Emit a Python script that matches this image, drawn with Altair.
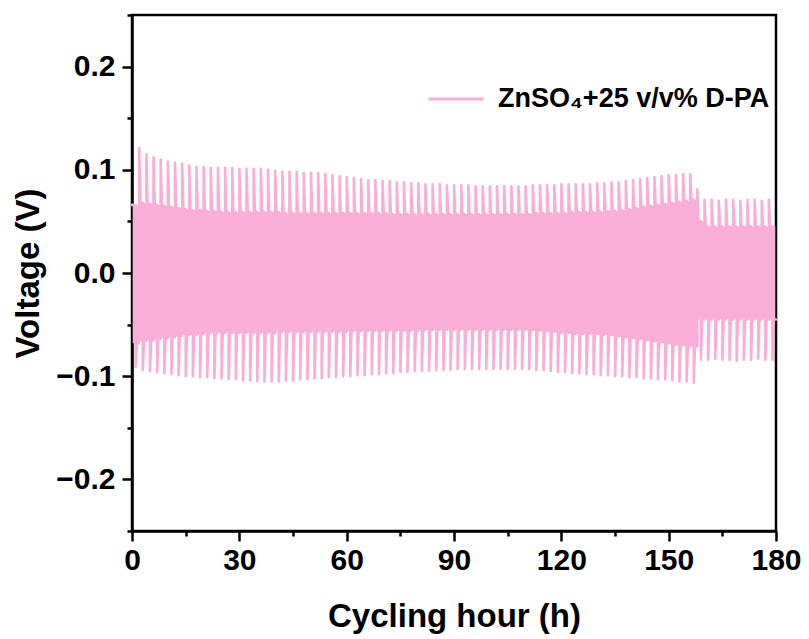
import altair as alt
import pandas as pd

PINK = "#F9AED8"
SERIES = "ZnSO\u2084+25 v/v% D-PA"

# Upper overpotential spikes at t = 2, 4, ..., 178 h
upper_peak = [
    0.121, 0.115, 0.112, 0.110, 0.108, 0.107, 0.106, 0.104, 0.103, 0.103,
    0.102, 0.102, 0.102, 0.102, 0.101, 0.101, 0.101, 0.101, 0.100, 0.099,
    0.098, 0.098, 0.098, 0.097, 0.097, 0.097, 0.096, 0.095, 0.094, 0.093,
    0.092, 0.091, 0.090, 0.090, 0.089, 0.089, 0.088, 0.088, 0.087, 0.087,
    0.086, 0.086, 0.086, 0.085, 0.085, 0.085, 0.085, 0.084, 0.084, 0.084,
    0.084, 0.084, 0.084, 0.084, 0.084, 0.085, 0.085, 0.085, 0.085, 0.086,
    0.086, 0.086, 0.086, 0.086, 0.087, 0.087, 0.088, 0.088, 0.089, 0.090,
    0.091, 0.092, 0.093, 0.094, 0.095, 0.095, 0.096, 0.096, 0.081, 0.071,
    0.071, 0.070, 0.071, 0.071, 0.070, 0.071, 0.071, 0.070, 0.071,
]
# Upper plateau of each positive half-cycle starting at t = 0, 2, ..., 178 h
upper_plateau = [
    0.066, 0.068, 0.067, 0.066, 0.065, 0.064, 0.063, 0.062, 0.061, 0.061,
    0.060, 0.060, 0.059, 0.059, 0.059, 0.059, 0.059, 0.059, 0.059, 0.059,
    0.059, 0.058, 0.058, 0.058, 0.058, 0.058, 0.058, 0.058, 0.058, 0.058,
    0.058, 0.058, 0.058, 0.058, 0.058, 0.058, 0.057, 0.057, 0.057, 0.057,
    0.057, 0.057, 0.057, 0.057, 0.057, 0.057, 0.057, 0.057, 0.057, 0.057,
    0.057, 0.057, 0.057, 0.057, 0.057, 0.057, 0.058, 0.058, 0.058, 0.058,
    0.058, 0.059, 0.059, 0.059, 0.059, 0.059, 0.060, 0.060, 0.061, 0.062,
    0.063, 0.064, 0.065, 0.066, 0.067, 0.068, 0.069, 0.070, 0.071, 0.050,
    0.045, 0.045, 0.045, 0.045, 0.045, 0.045, 0.045, 0.045, 0.045, 0.045,
]
# Lower overpotential spikes at t = 1, 3, ..., 179 h
lower_peak = [
    -0.091, -0.094, -0.095, -0.096, -0.097, -0.098, -0.099, -0.100, -0.100, -0.101,
    -0.101, -0.102, -0.102, -0.103, -0.103, -0.104, -0.104, -0.105, -0.105, -0.105,
    -0.105, -0.104, -0.104, -0.103, -0.103, -0.102, -0.102, -0.101, -0.101, -0.100,
    -0.100, -0.099, -0.099, -0.098, -0.098, -0.097, -0.097, -0.096, -0.096, -0.095,
    -0.095, -0.095, -0.094, -0.094, -0.094, -0.093, -0.093, -0.093, -0.093, -0.093,
    -0.093, -0.093, -0.093, -0.093, -0.093, -0.093, -0.094, -0.094, -0.095, -0.096,
    -0.096, -0.097, -0.097, -0.098, -0.098, -0.099, -0.099, -0.100, -0.100, -0.101,
    -0.101, -0.102, -0.102, -0.103, -0.103, -0.104, -0.105, -0.105, -0.106, -0.084,
    -0.084, -0.083, -0.084, -0.084, -0.085, -0.084, -0.084, -0.083, -0.084, -0.084,
]
# Lower plateau of each negative half-cycle starting at t = 1, 3, ..., 179 h
lower_plateau = [
    -0.068, -0.066, -0.065, -0.064, -0.063, -0.062, -0.061, -0.060, -0.060, -0.059,
    -0.058, -0.058, -0.058, -0.058, -0.058, -0.058, -0.058, -0.058, -0.058, -0.058,
    -0.057, -0.057, -0.057, -0.057, -0.057, -0.057, -0.057, -0.057, -0.057, -0.057,
    -0.056, -0.056, -0.056, -0.056, -0.056, -0.056, -0.056, -0.056, -0.056, -0.056,
    -0.055, -0.055, -0.055, -0.055, -0.055, -0.055, -0.055, -0.055, -0.055, -0.055,
    -0.055, -0.055, -0.055, -0.055, -0.055, -0.055, -0.056, -0.056, -0.057, -0.058,
    -0.058, -0.059, -0.059, -0.059, -0.059, -0.060, -0.060, -0.061, -0.062, -0.063,
    -0.064, -0.065, -0.066, -0.067, -0.068, -0.069, -0.070, -0.071, -0.071, -0.045,
    -0.045, -0.045, -0.045, -0.045, -0.045, -0.045, -0.045, -0.045, -0.045, -0.045,
]

x_major = [0, 30, 60, 90, 120, 150, 180]
x_minor = [15, 45, 75, 105, 135, 165]
y_major = [-0.2, -0.1, 0.0, 0.1, 0.2]
y_minor = [-0.25, -0.15, -0.05, 0.05, 0.15, 0.25]

# Build the galvanostatic voltage trace (1 h per half-cycle)
rows = [(0.0, upper_plateau[0])]
band = []
for k in range(len(upper_plateau)):
    ts = 2.0 * k
    if k > 0:
        rows.append((ts + 0.02, upper_peak[k - 1]))
        rows.append((ts + 0.35, upper_plateau[k]))
    rows.append((ts + 1.0, upper_plateau[k]))
    rows.append((ts + 1.02, lower_peak[k]))
    rows.append((ts + 1.35, lower_plateau[k]))
    rows.append((ts + 2.0, lower_plateau[k]))
    band.append((ts + 0.2, lower_plateau[k], upper_plateau[k]))
    band.append((ts + 1.8, lower_plateau[k], upper_plateau[k]))

df_line = pd.DataFrame(rows, columns=["t", "v"])
df_line["series"] = SERIES
df_band = pd.DataFrame(band, columns=["t", "lo", "hi"])

FONT = "Liberation Sans"
xscale = alt.Scale(domain=[0, 180], nice=False, zero=False)
yscale = alt.Scale(domain=[-0.25, 0.25], nice=False, zero=False)

axis_common = dict(
    domainColor="black", domainWidth=2.5, tickColor="black", tickWidth=2.5,
    labelColor="black", labelFont=FONT, labelFontWeight="bold",
    titleColor="black", titleFont=FONT, titleFontWeight="bold",
    grid=False, labelFlush=False, labelOverlap=False,
)

x_major_axis = alt.Axis(orient="bottom", values=x_major, tickSize=10, labelFontSize=30,
                        labelPadding=4, titleFontSize=33, titlePadding=25, format="d",
                        **axis_common)
y_major_axis = alt.Axis(orient="left", values=y_major, tickSize=10, labelFontSize=30,
                        labelPadding=7, titleFontSize=33, titlePadding=10, format=".1f",
                        **axis_common)
minor_common = dict(tickSize=5, labels=False, domain=False, title=None, grid=False,
                    tickColor="black", tickWidth=2.5)
x_minor_axis = alt.Axis(orient="bottom", values=x_minor, **minor_common)
y_minor_axis = alt.Axis(orient="left", values=y_minor, **minor_common)

band_layer = alt.Chart(df_band).mark_area(color=PINK, opacity=1).encode(
    x=alt.X("t:Q", scale=xscale, axis=x_minor_axis),
    y=alt.Y("lo:Q", scale=yscale, axis=y_minor_axis),
    y2="hi:Q",
)

line_layer = alt.Chart(df_line).mark_line(
    strokeWidth=2.6, strokeJoin="round", strokeCap="round"
).encode(
    x=alt.X("t:Q", scale=xscale, axis=x_major_axis, title="Cycling hour (h)"),
    y=alt.Y("v:Q", scale=yscale, axis=y_major_axis, title="Voltage (V)"),
    color=alt.Color(
        "series:N",
        scale=alt.Scale(range=[PINK]),
        legend=alt.Legend(
            orient="none", legendX=295, legendY=55, title=None,
            symbolType="stroke", symbolSize=3000, symbolStrokeWidth=3,
            labelFontSize=27, labelFont=FONT, labelFontWeight="bold",
            labelColor="black", labelOffset=13, padding=0, labelLimit=0,
        ),
    ),
)

chart = alt.layer(band_layer, line_layer).resolve_axis(
    x="independent", y="independent"
).properties(
    width=644, height=516,
    autosize=alt.AutoSizeParams(type="none"),
    padding={"left": 132, "top": 15, "right": 33, "bottom": 108},
    background="white",
).configure_view(stroke="black", strokeWidth=2.5)

chart.save("out.html", embed_options={"renderer": "svg", "actions": False})
